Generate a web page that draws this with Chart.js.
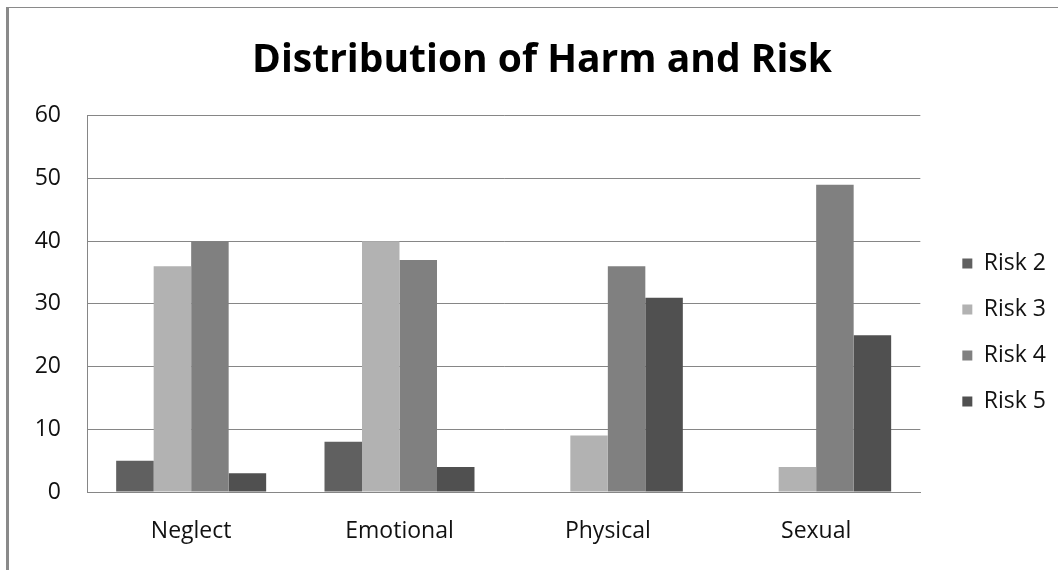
<!DOCTYPE html>
<html>
<head>
<meta charset="utf-8">
<title>Distribution of Harm and Risk</title>
<script src="https://cdn.jsdelivr.net/npm/chart.js@4"></script>
<style>
  html, body { margin: 0; padding: 0; background: #fff; }
  #wrap { position: relative; width: 1058px; height: 570px; overflow: hidden; }
  #chart { position: absolute; left: 0; top: 0; }
  .edge { position: absolute; background: #8a8a8a; }
  #edgeLeft { left: 6px; top: 7px; width: 3px; height: 563px; }
  #edgeTop { left: 6px; top: 7px; width: 1052px; height: 1px; }
</style>
</head>
<body>
<div id="wrap">
  <canvas id="chart" width="1058" height="570"></canvas>
  <div class="edge" id="edgeLeft"></div>
  <div class="edge" id="edgeTop"></div>
</div>
<script>
var categories = ['Neglect', 'Emotional', 'Physical', 'Sexual'];
var risk2 = [5, 8, 0, 0];
var risk3 = [36, 40, 9, 4];
var risk4 = [40, 37, 36, 49];
var risk5 = [3, 4, 31, 25];
var yTicks = [0, 10, 20, 30, 40, 50, 60];

var font = '"Open Sans", "Liberation Sans", sans-serif';
var gridGray = '#868686';

var ctx = document.getElementById('chart').getContext('2d');
var myChart = new Chart(ctx, {
    type: 'bar',
    data: {
        labels: categories,
        datasets: [
            { label: 'Risk 2', data: risk2, backgroundColor: '#606060' },
            { label: 'Risk 3', data: risk3, backgroundColor: '#b2b2b2' },
            { label: 'Risk 4', data: risk4, backgroundColor: '#808080' },
            { label: 'Risk 5', data: risk5, backgroundColor: '#505050' }
        ]
    },
    options: {
        responsive: false,
        animation: false,
        layout: { padding: { left: 28, right: 2, top: 0, bottom: 0 } },
        datasets: {
            bar: { categoryPercentage: 0.72, barPercentage: 1.0, borderWidth: 0 }
        },
        plugins: {
            title: {
                display: true,
                text: 'Distribution of Harm and Risk',
                color: '#000',
                font: { family: font, size: 39, weight: 'bold', lineHeight: 1.2 },
                padding: { top: 37, bottom: 32 }
            },
            legend: {
                position: 'right',
                fullSize: false,
                // blank title block pushes the items a little below the middle of the plot
                title: {
                    display: true,
                    text: '',
                    font: { size: 1, lineHeight: 1 },
                    padding: { top: 0, bottom: 56 }
                },
                labels: {
                    boxWidth: 10,
                    boxHeight: 10,
                    padding: 23,
                    color: '#111',
                    font: { family: font, size: 23 }
                }
            },
            tooltip: { enabled: false }
        },
        scales: {
            x: {
                grid: { display: false, drawTicks: false },
                border: { display: true, color: gridGray, width: 1 },
                ticks: {
                    color: '#111',
                    padding: 23,
                    maxRotation: 0,
                    font: { family: font, size: 23, lineHeight: 1.39 }
                }
            },
            y: {
                min: 0,
                max: 60,
                afterFit: function (scale) { scale.width = 59; },
                afterBuildTicks: function (scale) {
                    scale.ticks = yTicks.map(function (v) { return { value: v }; });
                },
                grid: { color: gridGray, lineWidth: 1, drawTicks: false },
                border: { display: true, color: gridGray, width: 1 },
                ticks: {
                    color: '#111',
                    padding: 26,
                    font: { family: font, size: 23 }
                }
            },
            // empty strip between the plot and the legend
            gap: {
                type: 'linear',
                position: 'right',
                display: true,
                grid: { display: false, drawTicks: false },
                border: { display: false },
                ticks: { display: false },
                afterFit: function (scale) { scale.width = 19; }
            }
        }
    }
});
</script>
</body>
</html>
